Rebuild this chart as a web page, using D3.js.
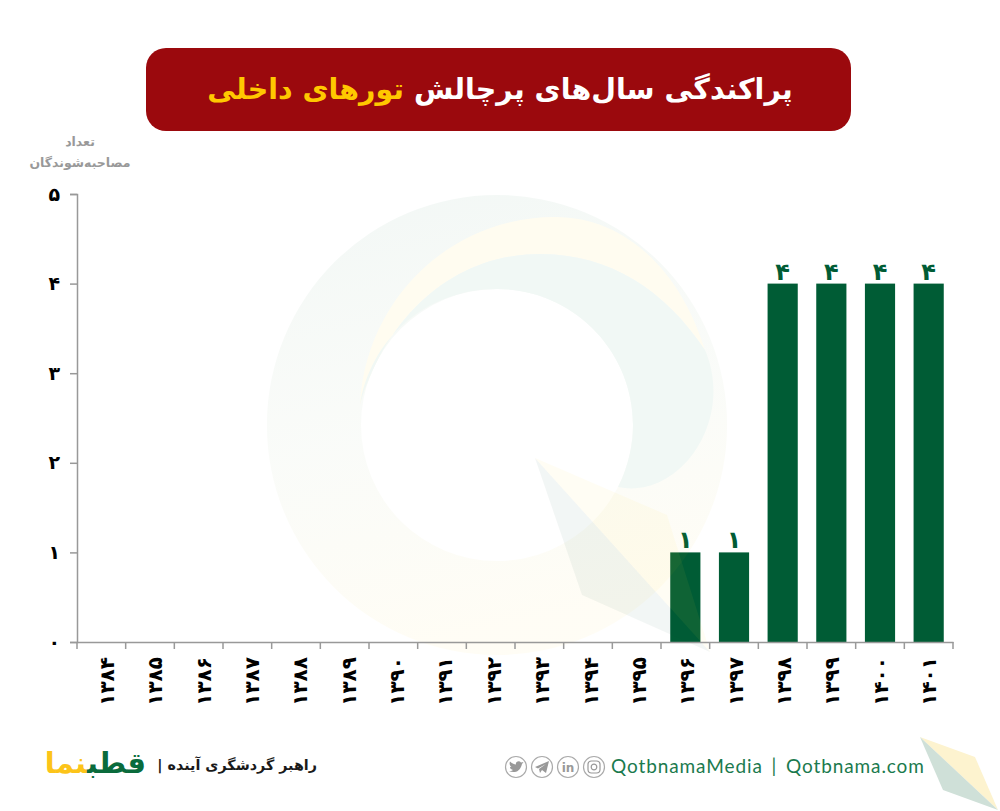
<!DOCTYPE html>
<html lang="fa">
<head>
<meta charset="utf-8">
<script src="https://cdn.jsdelivr.net/npm/d3@7"></script>
<style>
  html, body { margin: 0; padding: 0; background: #fff; }
  svg { display: block; }
  text { font-family: "DejaVu Sans", sans-serif; }
</style>
</head>
<body>
<div id="chart"></div>
<script>
// Chart data
const years = [1384, 1385, 1386, 1387, 1388, 1389, 1390, 1391, 1392, 1393, 1394, 1395, 1396, 1397, 1398, 1399, 1400, 1401];
const counts = [0, 0, 0, 0, 0, 0, 0, 0, 0, 0, 0, 0, 1, 1, 4, 4, 4, 4];
const yTicks = [0, 1, 2, 3, 4, 5];

const titleWhite = "پراکندگی سال‌های پرچالش ";
const titleYellow = "تورهای داخلی";
const yTitle = ["تعداد", "مصاحبه‌شوندگان"];

const green = "#005c35";

// Persian digits for every number on the chart
function fa(n) {
    return String(n).replace(/\d/g, d => "۰۱۲۳۴۵۶۷۸۹"[+d]);
}

// Two tone kite used in the watermark and in the page corner
function kite(group, a, b, c, d, light, dark) {
    group.append("path").attr("d", `M${a}L${b}L${c}Z`).attr("fill", light);
    group.append("path").attr("d", `M${a}L${c}L${d}Z`).attr("fill", dark);
}

function init() {
    const width = 1000;
    const height = 811;

    const svg = d3.select("#chart").append("svg")
                  .attr("width", width)
                  .attr("height", height);

    // Title box
    svg.append("rect")
       .attr("x", 146).attr("y", 48)
       .attr("width", 705).attr("height", 83)
       .attr("rx", 20)
       .attr("fill", "#9b090d");

    const title = svg.append("text")
                     .attr("x", 500).attr("y", 99)
                     .attr("direction", "rtl")
                     .attr("text-anchor", "middle")
                     .attr("font-size", 28.5)
                     .attr("font-weight", "bold");
    title.append("tspan").attr("fill", "#fff").text(titleWhite);
    title.append("tspan").attr("fill", "#ffc800").text(titleYellow);

    // Scales
    const x = d3.scaleBand()
                .domain(years)
                .range([77, 953])
                .paddingInner(0.38)
                .paddingOuter(0.19);

    const y = d3.scaleLinear()
                .domain([0, 5])
                .range([642, 194]);

    // The rotated labels run on a slightly tighter spacing than the bars
    const labelX = d3.scalePoint()
                     .domain(years)
                     .range([107, 929]);

    // Bars
    const bars = svg.append("g");
    bars.selectAll("rect")
        .data(years)
        .enter()
        .append("rect")
        .attr("x", d => x(d))
        .attr("y", (d, i) => y(counts[i]))
        .attr("width", x.bandwidth())
        .attr("height", (d, i) => y(0) - y(counts[i]))
        .attr("fill", green);

    // Value labels, empty years get none
    svg.append("g").selectAll("text")
       .data(years.filter((d, i) => counts[i] > 0))
       .enter()
       .append("text")
       .attr("x", d => x(d) + x.bandwidth() / 2)
       .attr("y", d => y(counts[years.indexOf(d)]) - 4)
       .attr("text-anchor", "middle")
       .attr("font-size", 24)
       .attr("font-weight", "bold")
       .attr("fill", green)
       .text(d => fa(counts[years.indexOf(d)]));

    // Faint logo, on top of the bars as in the original
    const wmGrad = svg.append("defs").append("linearGradient")
                      .attr("id", "ring")
                      .attr("x1", 0).attr("y1", 0)
                      .attr("x2", 0.2).attr("y2", 1);
    wmGrad.append("stop").attr("offset", "0%").attr("stop-color", "#00663c").attr("stop-opacity", 0.05);
    wmGrad.append("stop").attr("offset", "55%").attr("stop-color", "#6a9a50").attr("stop-opacity", 0.035);
    wmGrad.append("stop").attr("offset", "100%").attr("stop-color", "#ffc800").attr("stop-opacity", 0.04);

    const wm = svg.append("g").attr("pointer-events", "none");
    const arc = d3.arc()({ innerRadius: 136, outerRadius: 230, startAngle: 0, endAngle: 2 * Math.PI });
    wm.append("path")
      .attr("transform", "translate(497,425)")
      .attr("d", arc)
      .attr("fill", "url(#ring)");
    // Opaque, so the crescents hide the ring under them
    const crescent = "M360,405C365,300 450,217 555,217C625,217 680,270 705,350C665,290 610,254 540,254C450,254 385,320 360,405Z";
    wm.append("path").attr("d", crescent).attr("fill", "#fffcf0");
    wm.append("path")
      .attr("d", "M360,405C385,320 450,254 540,254C610,254 665,290 705,350C735,420 680,500 618,487C628,467 633,445 633,425C633,350 572,289 497,289C425,289 370,340 360,405Z")
      .attr("fill", "#f1f8f5");
    kite(wm, [535, 458], [667, 515], [710, 652], [582, 595], "rgba(255,215,70,0.06)", "rgba(0,80,60,0.05)");

    // Axes
    const yAxis = svg.append("g")
                     .attr("transform", "translate(77,0)")
                     .call(d3.axisLeft(y).tickValues(yTicks).tickFormat(fa).tickSize(7).tickPadding(10));
    const xAxis = svg.append("g")
                     .attr("transform", "translate(0,642)")
                     .call(d3.axisBottom(x).tickFormat(fa).tickSize(0).tickSizeOuter(0));

    // Ticks sit on the band edges, not the band centres
    xAxis.selectAll(".edge")
         .data(d3.range(years.length + 1))
         .enter()
         .append("line")
         .attr("class", "edge")
         .attr("x1", i => 77 + i * x.step())
         .attr("x2", i => 77 + i * x.step())
         .attr("y2", 7)
         .attr("stroke", "#999")
         .attr("stroke-width", 1.5);

    yAxis.selectAll("path, line").attr("stroke", "#999").attr("stroke-width", 1.5);
    xAxis.select("path").attr("stroke", "#999").attr("stroke-width", 1.5);

    yAxis.selectAll("text")
         .attr("font-size", 19)
         .attr("font-weight", "bold")
         .attr("font-family", "DejaVu Sans")
         .attr("fill", "#000");

    xAxis.selectAll(".tick text")
         .attr("font-size", 20)
         .attr("font-weight", "bold")
         .attr("font-family", "DejaVu Sans")
         .attr("fill", "#000")
         .attr("text-anchor", "end")
         .attr("dy", "0.35em")
         .attr("transform", d => `translate(${labelX(d) - x(d) - x.bandwidth() / 2},15) rotate(-90)`)
         .attr("y", 0);

    // Y axis title
    svg.append("g").selectAll("text")
       .data(yTitle)
       .enter()
       .append("text")
       .attr("x", 80)
       .attr("y", (d, i) => 146 + i * 21)
       .attr("direction", "rtl")
       .attr("text-anchor", "middle")
       .attr("font-size", 12.5)
       .attr("font-weight", "bold")
       .attr("fill", "#999")
       .text(d => d);

    // Footer, left side
    const logo = svg.append("text")
                    .attr("x", 146).attr("y", 773)
                    .attr("direction", "rtl")
                    .attr("text-anchor", "start")
                    .attr("font-size", 29)
                    .attr("font-weight", "bold");
    logo.append("tspan").attr("fill", "#0a6b3c").text("قطب");
    logo.append("tspan").attr("fill", "#fcc419").text("نما");

    svg.append("text")
       .attr("x", 317).attr("y", 770)
       .attr("direction", "rtl")
       .attr("text-anchor", "start")
       .attr("font-size", 14.3)
       .attr("font-weight", "bold")
       .attr("fill", "#1a1a1a")
       .text("راهبر گردشگری آینده |");

    // Footer, right side
    svg.append("text")
       .attr("x", 611).attr("y", 773)
       .style("font-family", "Lato")
       .attr("font-size", 19)
       .attr("letter-spacing", 0.9)
       .attr("word-spacing", 3)
       .attr("fill", "#1b7a4e")
       .text("QotbnamaMedia | Qotbnama.com");

    // Social icons
    const iconX = [516, 542, 568, 594];
    const icons = svg.append("g").selectAll("g")
                     .data(iconX)
                     .enter()
                     .append("g")
                     .attr("transform", d => `translate(${d},767)`);
    icons.append("circle")
         .attr("r", 10.5)
         .attr("fill", "#fff")
         .attr("stroke", "#aaa")
         .attr("stroke-width", 1.2);

    const tw = d3.select(icons.nodes()[0]);
    tw.append("path")
      .attr("d", "M-7,4C-3,6 4,6 6,-3L7.5,-5L5,-4.5C3,-7 -1,-5 0,-2.5C-2,-2.5 -4,-3.5 -6,-5.5C-7,-3 -6,-1 -4.5,0L-6,0C-6,2 -4.5,2.5 -3,3C-4,4 -5.5,4 -7,4Z")
      .attr("fill", "#999");

    const tg = d3.select(icons.nodes()[1]);
    tg.append("path")
      .attr("d", "M-7,0L7,-6L4,6L0,3L-2,6L-3,2L4,-3L-4,1.5Z")
      .attr("fill", "#999");

    const li = d3.select(icons.nodes()[2]);
    li.append("text")
      .attr("text-anchor", "middle")
      .attr("y", 4.5)
      .attr("font-size", 12)
      .attr("font-weight", "bold")
      .attr("fill", "#999")
      .text("in");

    const ig = d3.select(icons.nodes()[3]);
    ig.append("rect")
      .attr("x", -6).attr("y", -6)
      .attr("width", 12).attr("height", 12)
      .attr("rx", 3.5)
      .attr("fill", "none").attr("stroke", "#999").attr("stroke-width", 1.2);
    ig.append("circle")
      .attr("r", 2.8)
      .attr("fill", "none").attr("stroke", "#999").attr("stroke-width", 1.2);

    // Corner kite
    kite(svg.append("g"), [920, 737], [975, 757], [998, 810], [943, 790], "#fdf3cf", "#cfe0d8");
}

window.onload = init;
</script>
</body>
</html>
